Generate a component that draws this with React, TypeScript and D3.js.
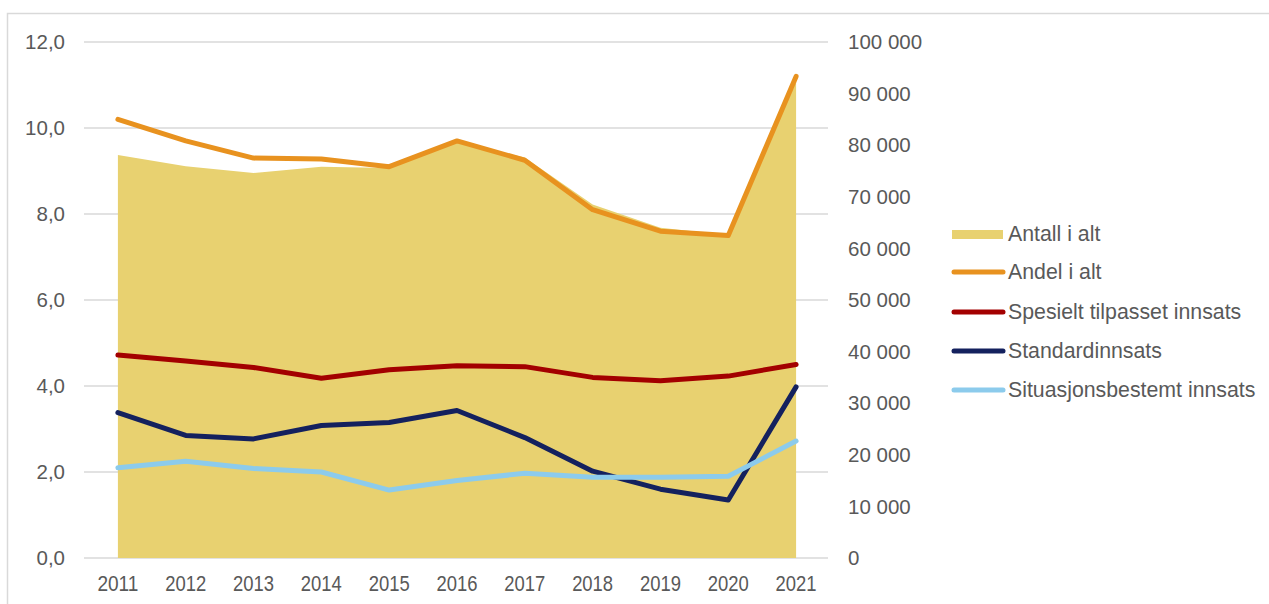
import React from "react";
import * as d3 from "d3";

const years = ["2011","2012","2013","2014","2015","2016","2017","2018","2019","2020","2021"];
const antallIAlt = [78100, 75900, 74600, 75800, 75600, 80600, 77600, 68500, 64000, 62600, 92300];
const andelIAlt = [10.2, 9.7, 9.3, 9.28, 9.1, 9.7, 9.25, 8.1, 7.6, 7.5, 11.2];
const spesielt = [4.72, 4.58, 4.43, 4.18, 4.38, 4.47, 4.45, 4.2, 4.12, 4.23, 4.5];
const standard = [3.38, 2.85, 2.77, 3.08, 3.15, 3.43, 2.8, 2.02, 1.6, 1.35, 3.98];
const situasjon = [2.1, 2.25, 2.08, 2.0, 1.58, 1.8, 1.97, 1.88, 1.88, 1.9, 2.72];
const leftTicks = [0, 2, 4, 6, 8, 10, 12];
const rightTicks = [0, 10000, 20000, 30000, 40000, 50000, 60000, 70000, 80000, 90000, 100000];

const lineSeries = [
  { name: "Andel i alt", values: andelIAlt, color: "#E8921F" },
  { name: "Spesielt tilpasset innsats", values: spesielt, color: "#A30000" },
  { name: "Standardinnsats", values: standard, color: "#14215E" },
  { name: "Situasjonsbestemt innsats", values: situasjon, color: "#8CCBEC" },
];

const W = 1269, H = 604;
const plotL = 84, plotR = 830, plotT = 42, plotB = 558;

export default function App() {
  const x = d3.scaleBand<string>().domain(years).range([plotL, plotR]);
  const cx = (y: string) => (x(y) as number) + x.bandwidth() / 2;
  const yL = d3.scaleLinear().domain([0, 12]).range([plotB, plotT]);
  const yR = d3.scaleLinear().domain([0, 100000]).range([plotB, plotT]);

  const area = d3.area<number>()
    .x((_, i) => cx(years[i]))
    .y0(yR(0))
    .y1((d) => yR(d));
  const line = d3.line<number>()
    .x((_, i) => cx(years[i]))
    .y((d) => yL(d));

  const fmtL = (v: number) => v.toFixed(1).replace(".", ",");
  const fmtR = (v: number) => (v >= 1000 ? `${Math.floor(v / 1000)} ${String(v % 1000).padStart(3, "0")}` : String(v));

  const font = "'Liberation Sans', Arial, sans-serif";
  const txt = "#595959";
  const legendX = 952;
  const legendRows = [234, 272, 312, 351, 390];
  const fs = 20.5;

  return (
    <svg width={W} height={H} style={{ position: "absolute", left: 0, top: 0, display: "block" }} fontFamily={font}>
      <rect x={0} y={0} width={W} height={H} fill="#fff" />
      <path d={`M7.5,${H} V13.5 H${W}`} fill="none" stroke="#d9d9d9" strokeWidth={1.5} />
      {leftTicks.map((t) => (
        <line key={t} x1={plotL} x2={plotR - 2} y1={yL(t)} y2={yL(t)} stroke="#d9d9d9" strokeWidth={1.5} />
      ))}
      <path d={area(antallIAlt) || ""} fill="#E8D170" />
      {lineSeries.map((s) => (
        <path key={s.name} d={line(s.values) || ""} fill="none" stroke={s.color} strokeWidth={5} strokeLinejoin="round" strokeLinecap="round" />
      ))}
      {leftTicks.map((t) => (
        <text key={t} x={65} y={yL(t)} dy="0.35em" textAnchor="end" fontSize={fs} fill={txt}>{fmtL(t)}</text>
      ))}
      {rightTicks.map((t) => (
        <text key={t} x={848} y={yR(t)} dy="0.35em" textAnchor="start" fontSize={fs} fill={txt}>{fmtR(t)}</text>
      ))}
      {years.map((yr) => (
        <text key={yr} x={cx(yr)} y={583} dy="0.35em" textAnchor="middle" fontSize={21.5} textLength={41} lengthAdjust="spacingAndGlyphs" fill={txt}>{yr}</text>
      ))}
      <rect x={legendX} y={legendRows[0] - 4} width={51} height={9} fill="#E8D170" />
      <text x={1008} y={legendRows[0]} dy="0.35em" fontSize={21.3} fill={txt}>Antall i alt</text>
      {lineSeries.map((s, i) => (
        <g key={s.name}>
          <line x1={legendX + 2} x2={legendX + 51} y1={legendRows[i + 1]} y2={legendRows[i + 1]} stroke={s.color} strokeWidth={5} strokeLinecap="round" />
          <text x={1008} y={legendRows[i + 1]} dy="0.35em" fontSize={21.3} fill={txt}>{s.name}</text>
        </g>
      ))}
    </svg>
  );
}
